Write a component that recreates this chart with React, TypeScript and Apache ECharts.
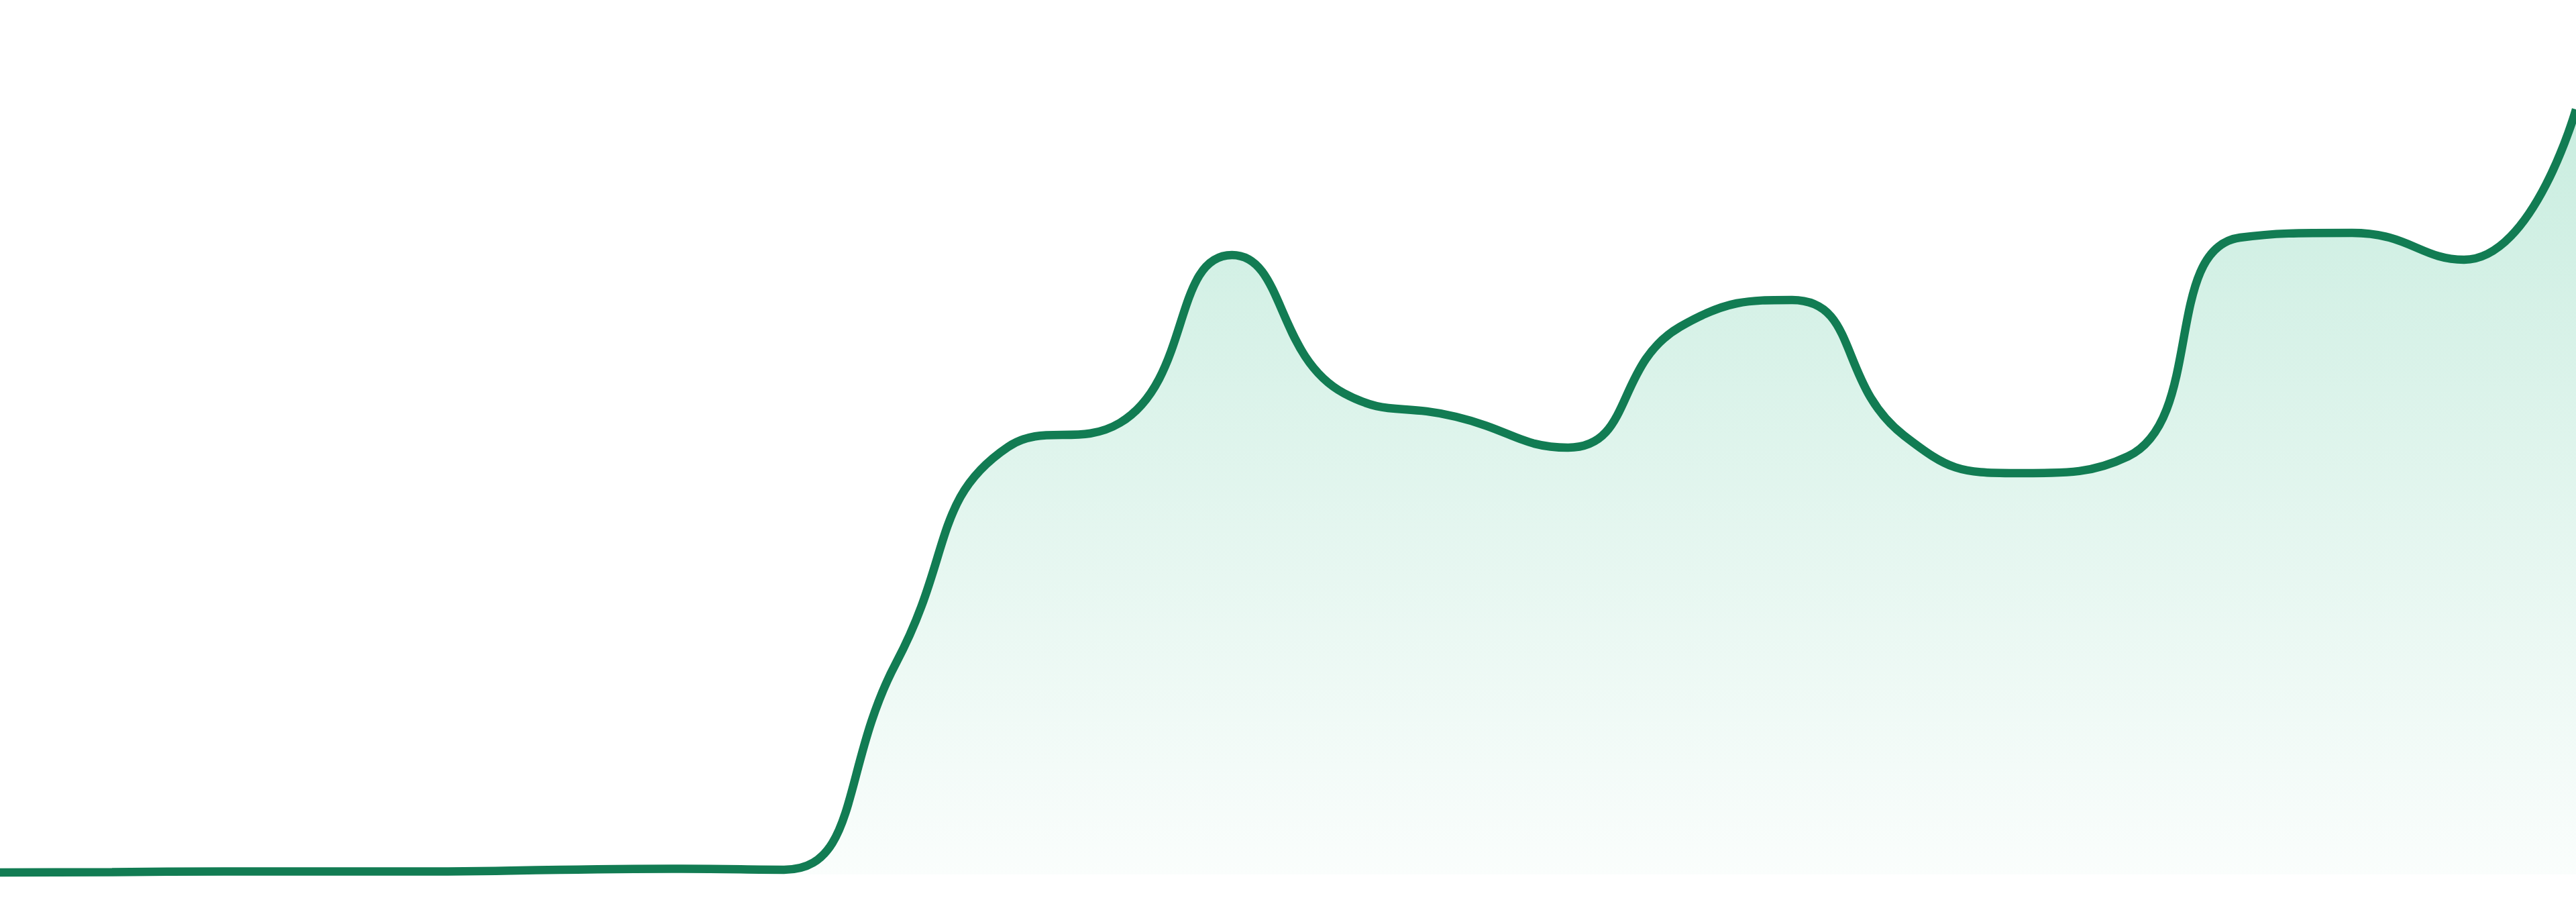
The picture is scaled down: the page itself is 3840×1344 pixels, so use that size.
import { useRef, useEffect } from 'react'
import * as echarts from 'echarts'

// 24 evenly spaced samples, left to right
const categories = [
  'P01', 'P02', 'P03', 'P04', 'P05', 'P06', 'P07', 'P08',
  'P09', 'P10', 'P11', 'P12', 'P13', 'P14', 'P15', 'P16',
  'P17', 'P18', 'P19', 'P20', 'P21', 'P22', 'P23', 'P24',
]

const values = [
  0.3, 0.35, 0.45, 0.45, 0.45, 0.7, 0.85, 0.7,
  31.5, 63.7, 67.3, 92.3, 71.7, 68.2, 63.6, 81.6,
  85.6, 65.4, 59.8, 62.3, 94.9, 95.6, 91.6, 114.0,
]

const yMin = 0
const yMax = 130

const LINE = '#127c53'

export default function App() {
  const containerRef = useRef<HTMLDivElement>(null)

  useEffect(() => {
    document.body.style.margin = '0'
    const el = containerRef.current
    if (!el) return
    const chart = echarts.init(el, null, { renderer: 'svg' })

    const option: echarts.EChartsOption = {
      backgroundColor: '#ffffff',
      animation: false,
      grid: { top: 3, right: 0, bottom: 41, left: 0, containLabel: false },
      xAxis: {
        type: 'category',
        data: categories,
        boundaryGap: false,
        show: false,
      },
      yAxis: {
        type: 'value',
        min: yMin,
        max: yMax,
        show: false,
      },
      series: [
        {
          type: 'line',
          data: values,
          smooth: true,
          symbol: 'none',
          silent: true,
          lineStyle: { color: LINE, width: 12.5 },
          areaStyle: {
            color: new echarts.graphic.LinearGradient(0, 0, 0, 1, [
              { offset: 0, color: 'rgba(16, 175, 115, 0.32)' },
              { offset: 1, color: 'rgba(16, 175, 115, 0.03)' },
            ]),
          },
        },
      ],
    }

    chart.setOption(option)

    return () => {
      chart.dispose()
    }
  }, [])

  return <div ref={containerRef} style={{ width: 3840, height: 1344 }} />
}
